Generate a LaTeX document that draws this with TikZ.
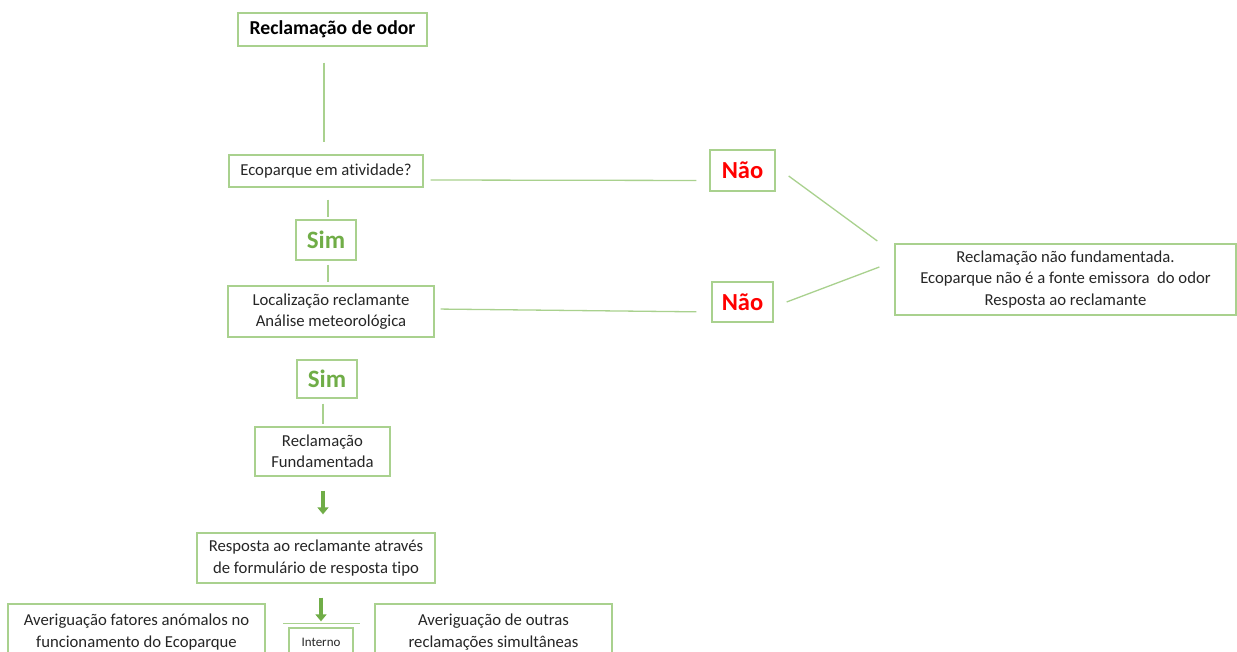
\documentclass[tikz,border=0pt]{standalone}
\usepackage{fontspec}
\setmainfont[Ligatures=NoCommon]{Carlito}
\usetikzlibrary{arrows.meta}
\definecolor{boxgreen}{HTML}{A9D18E}
\definecolor{simgreen}{HTML}{70AD47}
\definecolor{txt}{HTML}{262626}
\tikzset{
  box/.style={draw=boxgreen, line width=1.3pt, fill=white, align=center, inner sep=0pt,
    text=txt, font=\fontsize{16.7}{21.5}\selectfont},
  conn/.style={draw=boxgreen, line width=1.3pt},
  garrow/.style={draw=simgreen, line width=3.5pt, -{Triangle[width=11pt,length=7pt]}},
  simtxt/.style={text=simgreen, font=\fontsize{25}{28}\selectfont\bfseries},
  naotxt/.style={text=red, font=\fontsize{24.5}{28}\selectfont\bfseries},
}
\begin{document}
\begin{tikzpicture}[x=1pt,y=-1pt]
\useasboundingbox (0,0) rectangle (1237,652);
\clip (0,0) rectangle (1237,652);
\fill[white] (0,0) rectangle (1237,652);
% nodes
\node[box, minimum width=189pt, minimum height=33pt, text=black, font=\fontsize{19.7}{22}\selectfont\bfseries] (odor) at (332.5,29.5) {Reclamação de odor};
\node[box, minimum width=194pt, minimum height=32pt] (ativ) at (326,171) {Ecoparque em atividade?};
\node[box, naotxt, minimum width=65pt, minimum height=41pt] (nao1) at (742.5,170.5) {Não};
\node[box, simtxt, minimum width=60pt, minimum height=40pt] (sim1) at (326,240) {Sim};
\node[box, minimum width=206pt, minimum height=51pt] (loc) at (331,311.5) {Localização reclamante\\Análise meteorológica};
\node[box, naotxt, minimum width=61pt, minimum height=40pt] (nao2) at (742.5,302) {Não};
\node[box, minimum width=341pt, minimum height=71pt] (naofund) at (1065.5,279.5) {Reclamação não fundamentada.\\Ecoparque não é a fonte emissora\ \ do odor\\Resposta ao reclamante};
\node[box, simtxt, minimum width=60pt, minimum height=38pt] (sim2) at (327,379) {Sim};
\node[box, minimum width=135pt, minimum height=49pt] (fund) at (322.5,451.5) {Reclamação\\Fundamentada};
\node[box, minimum width=238pt, minimum height=50pt] (resp) at (316,558) {Resposta ao reclamante através\\de formulário de resposta tipo};
\node[box, minimum width=257pt, minimum height=56pt] (anom) at (136.5,632) {Averiguação fatores anómalos no\\funcionamento do Ecoparque};
\node[box, minimum width=237pt, minimum height=56pt] (outras) at (493.5,632) {Averiguação de outras\\reclamações simultâneas};
\node[box, minimum width=64pt, minimum height=28pt, font=\fontsize{13}{15}\selectfont] (interno) at (321,642) {Interno};
% connectors
\draw[conn, shorten <=16pt, shorten >=12pt] ([xshift=-8.5pt]odor.south) -- ([xshift=-2pt]ativ.north);
\draw[conn, shorten <=7pt, shorten >=13pt] ([yshift=-9pt]ativ.east) -- ([yshift=-10pt]nao1.west);
\draw[conn] ([xshift=13pt,yshift=-5.5pt]nao1.east) -- ([xshift=-17pt,yshift=38.5pt]naofund.west);
\draw[conn] ([xshift=13pt]nao2.east) -- ([xshift=-15pt,yshift=12.5pt]naofund.west);
\draw[conn, shorten <=12pt, shorten >=2pt] ([xshift=2pt]ativ.south) -- ([xshift=2pt]sim1.north);
\draw[conn, shorten <=4pt, shorten >=3pt] ([xshift=2pt]sim1.south) -- ([xshift=-3pt]loc.north);
\draw[conn, shorten <=6pt, shorten >=15pt] ([yshift=2.5pt]loc.east) -- ([yshift=-10pt]nao2.west);
\draw[conn, shorten <=5pt, shorten >=2pt] ([xshift=-4pt]sim2.south) -- ([xshift=0.5pt]fund.north);
\draw[garrow, shorten <=14pt, shorten >=18pt] ([xshift=0.5pt]fund.south) -- ([xshift=7pt]resp.north);
\draw[garrow, shorten <=14pt, shorten >=6pt] ([xshift=5pt]resp.south) -- (interno.north);
\draw[conn] ([xshift=-38pt,yshift=4pt]interno.north) -- ([xshift=39pt,yshift=4pt]interno.north);
\end{tikzpicture}
\end{document}
